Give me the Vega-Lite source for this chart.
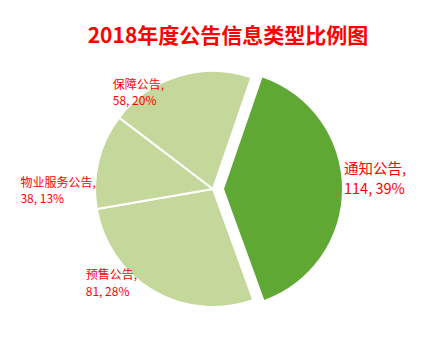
{
  "$schema": "https://vega.github.io/schema/vega-lite/v6.json",
  "width": 426,
  "height": 238,
  "autosize": {"type": "none"},
  "padding": {"top": 70, "left": 0, "right": 0, "bottom": 31},
  "background": "white",
  "config": {"view": {"stroke": null}, "font": "Noto Sans CJK SC"},
  "title": {
    "text": "2018年度公告信息类型比例图",
    "fontSize": 21,
    "fontWeight": "bold",
    "color": "#FF0000",
    "font": "Noto Sans CJK SC",
    "anchor": "middle",
    "dx": 15,
    "dy": 9,
    "offset": 12
  },
  "data": {
    "values": [
      {"category": "通知公告", "value": 114, "pct": "39%"},
      {"category": "预售公告", "value": 81, "pct": "28%"},
      {"category": "物业服务公告", "value": 38, "pct": "13%"},
      {"category": "保障公告", "value": 58, "pct": "20%"}
    ]
  },
  "transform": [
    {"window": [{"op": "row_number", "as": "idx"}]},
    {"calculate": "datum.category + ',\\n' + datum.value + ', ' + datum.pct", "as": "label"}
  ],
  "encoding": {
    "theta": {"field": "value", "type": "quantitative", "stack": true, "scale": {"range": [0.3316, 6.6148]}},
    "order": {"field": "idx", "type": "quantitative"}
  },
  "layer": [
    {
      "mark": {"type": "arc", "radius": 118, "stroke": "white", "strokeWidth": 2},
      "encoding": {
        "color": {"field": "category", "type": "nominal", "legend": null,
          "scale": {"domain": ["通知公告", "预售公告", "物业服务公告", "保障公告"], "range": ["#5FA833", "#C5D89C", "#C5D89C", "#C5D89C"]}},
        "opacity": {"condition": {"test": "datum.category === '通知公告'", "value": 0}, "value": 1}
      }
    },
    {
      "mark": {"type": "arc", "radius": 118, "xOffset": 11, "yOffset": 0},
      "encoding": {
        "color": {"field": "category", "type": "nominal", "legend": null},
        "opacity": {"condition": {"test": "datum.category === '通知公告'", "value": 1}, "value": 0}
      }
    },
    {
      "mark": {"type": "text", "align": "left", "baseline": "middle", "lineBreak": "\n", "fontSize": 14.5, "lineHeight": 20, "color": "#FF0000", "dx": 13, "dy": -18},
      "encoding": {
        "radius": {"value": 118},
        "text": {"condition": {"test": "datum.category === '通知公告'", "field": "label"}, "value": ""}
      }
    },
    {
      "mark": {"type": "text", "align": "left", "baseline": "middle", "lineBreak": "\n", "fontSize": 12, "lineHeight": 16, "color": "#FF0000", "dx": -66, "dy": 9},
      "encoding": {
        "radius": {"value": 118},
        "text": {"condition": {"test": "datum.category === '保障公告'", "field": "label"}, "value": ""}
      }
    },
    {
      "mark": {"type": "text", "align": "left", "baseline": "middle", "lineBreak": "\n", "fontSize": 12, "lineHeight": 16, "color": "#FF0000", "dx": -78, "dy": 22},
      "encoding": {
        "radius": {"value": 118},
        "text": {"condition": {"test": "datum.category === '物业服务公告'", "field": "label"}, "value": ""}
      }
    },
    {
      "mark": {"type": "text", "align": "left", "baseline": "middle", "lineBreak": "\n", "fontSize": 12, "lineHeight": 17, "color": "#FF0000", "dx": -68, "dy": -16},
      "encoding": {
        "radius": {"value": 118},
        "text": {"condition": {"test": "datum.category === '预售公告'", "field": "label"}, "value": ""}
      }
    }
  ]
}
